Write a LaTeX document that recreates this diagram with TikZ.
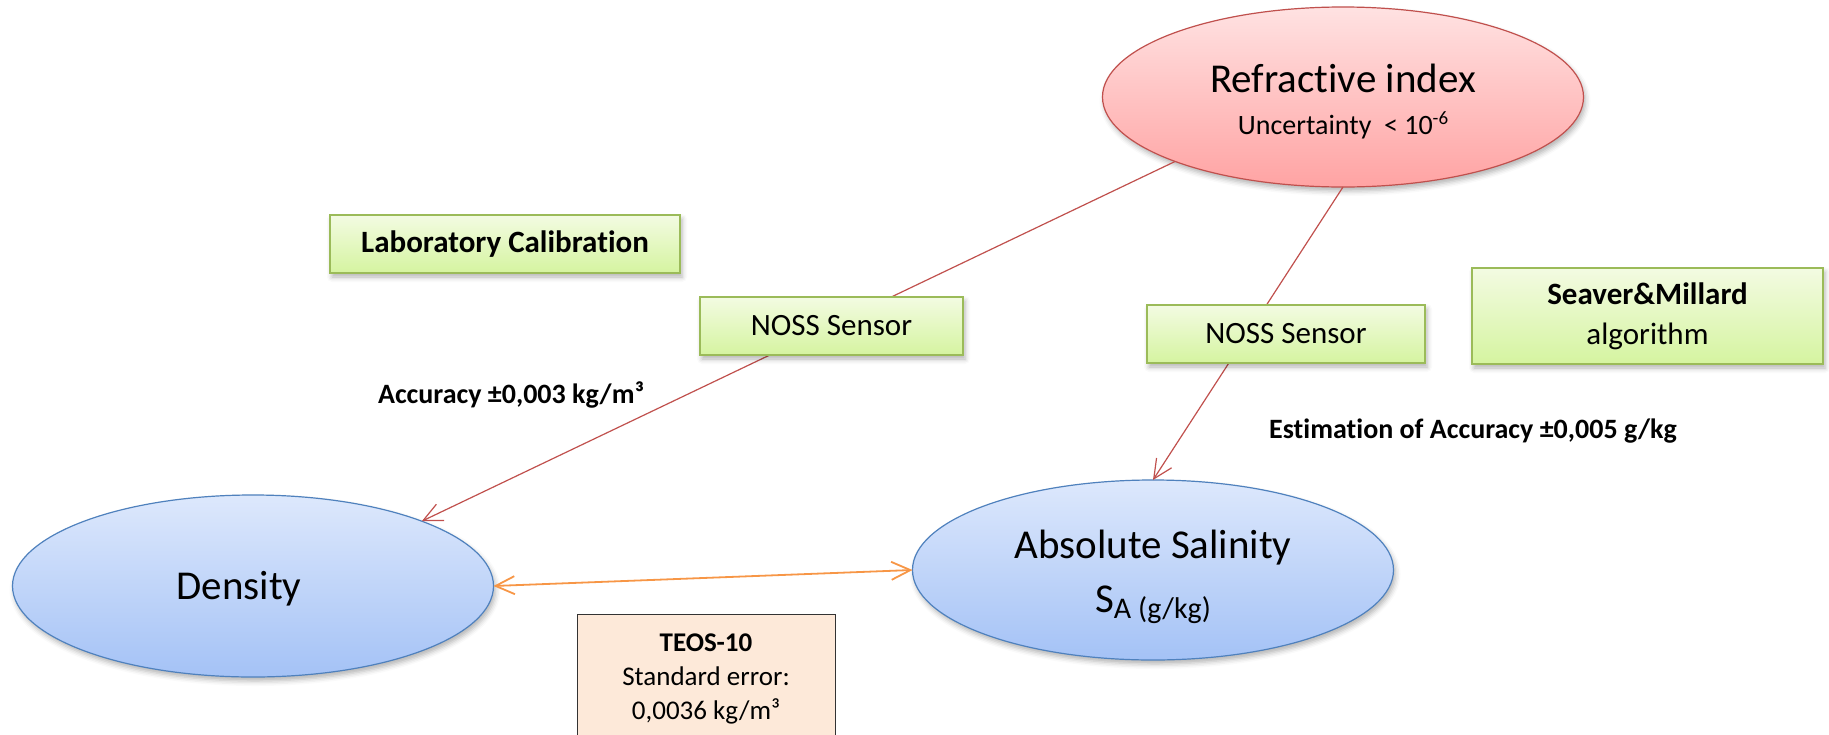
\documentclass[tikz,border=0pt]{standalone}
\usepackage{fontspec}
\setmainfont{Carlito}[Ligatures={TeX,NoCommon}]
\usetikzlibrary{arrows.meta,shapes.geometric,shadows.blur}

\definecolor{redline}{HTML}{C0504D}
\definecolor{orangeline}{HTML}{F79646}
\definecolor{blueline}{HTML}{4F81BD}
\definecolor{greenline}{HTML}{9BBB59}
\definecolor{bluetop}{HTML}{DDE8FC}
\definecolor{bluebot}{HTML}{A4C2F6}
\definecolor{redtop}{HTML}{FFE2E2}
\definecolor{redbot}{HTML}{FFA3A3}
\definecolor{greentop}{HTML}{F3FBE2}
\definecolor{greenbot}{HTML}{D5F4A0}
\definecolor{teosfill}{HTML}{FDE9D9}

\begin{document}
\begin{tikzpicture}[x=1pt,y=-1pt,
  >={Straight Barb[length=19pt,width=18pt]},
  softshadow/.style={blur shadow={shadow xshift=2pt,shadow yshift=-4pt,shadow blur radius=5pt,shadow opacity=30}},
  quantity/.style={ellipse,draw=blueline,line width=1.2pt,top color=bluetop,bottom color=bluebot,
    minimum width=481pt,minimum height=182pt,inner sep=0pt,outer sep=0pt,align=center,
    font=\fontsize{41}{41}\selectfont,softshadow},
  index/.style={quantity,draw=redline,top color=redtop,bottom color=redbot,minimum height=180pt},
  method/.style={rectangle,draw=greenline,line width=1.2pt,top color=greentop,bottom color=greenbot,
    minimum height=58pt,inner sep=0pt,align=center,font=\fontsize{31}{38}\selectfont,softshadow},
  note/.style={font=\bfseries\fontsize{28}{28}\selectfont,inner sep=0pt},
  link/.style={redline,line width=1.2pt,->},
  pair/.style={orangeline,line width=1.8pt,<->}]

  \useasboundingbox (0,0) rectangle (1829,734);

  % quantities
  \node[index] (refr) at (1343,97) {\rule{0pt}{37pt}Refractive index\\[1pt]
    {\fontsize{28}{28}\selectfont Uncertainty\ \ {<} 10\raisebox{10pt}{\fontsize{19}{19}\selectfont -6}}};
  \node[quantity] (dens) at (253,586) {\rule{0pt}{33pt}Density\hspace{28pt}};
  \node[quantity,minimum height=180pt] (salin) at (1153,570) {\rule{0pt}{43pt}Absolute Salinity\\[13pt]
    S\raisebox{-6pt}{\fontsize{30}{30}\selectfont A (g/kg)}};

  % links
  \draw[link] (refr.201.5) -- (dens.21.4);
  \draw[link] (refr.south) -- (salin.north);
  \draw[pair] (dens.east) -- (salin.west);

  % methods
  \node[method,minimum width=350pt,font=\bfseries\fontsize{31}{38}\selectfont] (labcal) at (505,244) {Laboratory Calibration};
  \node[method,minimum width=263pt] (noss1) at (831.5,326) {NOSS Sensor};
  \node[method,minimum width=278pt] (noss2) at (1286,334) {NOSS Sensor};
  \node[method,minimum width=351pt,minimum height=96pt,font=\fontsize{31}{40}\selectfont] (seaver) at (1647.5,316) {\textbf{Seaver\&Millard}\\algorithm};

  \node[note,anchor=base] (acc) at (511,403) {Accuracy ±0,003 kg/m³};
  \node[note,anchor=base] (est) at (1473,438) {Estimation of Accuracy ±0,005 g/kg};

  \node[draw=black!80,line width=1pt,fill=teosfill,minimum width=258pt,minimum height=132pt,
    align=center,text depth=6pt,font=\fontsize{27}{34}\selectfont] (teos) at (706,680)
    {\textbf{TEOS-10}\\Standard error:\\0,0036 kg/m³};

\end{tikzpicture}
\end{document}
